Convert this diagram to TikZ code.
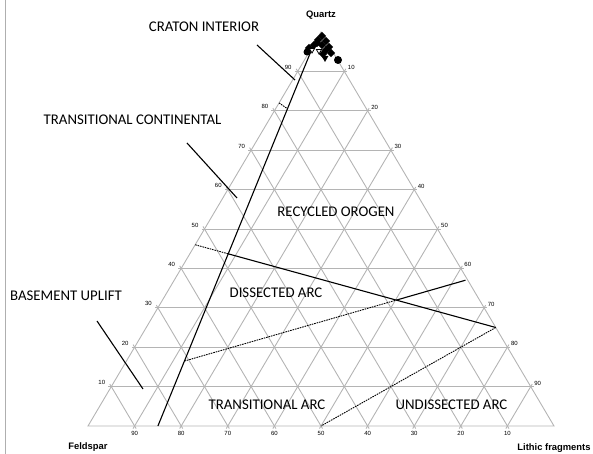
\documentclass[tikz,border=0pt]{standalone}
\usepackage{fontspec}
\setmainfont{Carlito}
\newfontfamily\arialfont{Liberation Sans}
\usepackage{xcolor}
\definecolor{GridGray}{RGB}{180,180,180}
\definecolor{FrameGray}{RGB}{175,175,175}
\usetikzlibrary{shapes.geometric, calc, positioning}
\tikzset{
  % Ternary grid and outline
  gridline/.style={draw=GridGray, line width=0.9pt, shorten <=-3pt, shorten >=-3pt},
  edgeline/.style={draw=GridGray, line width=0.9pt},
  % Field boundaries
  bound/.style={draw=black, line width=1.1pt},
  dbound/.style={draw=black, line width=0.9pt, dash pattern=on 1.6pt off 0.9pt},
  % Leader lines
  lead/.style={draw=black, line width=1.1pt},
  % Texts
  fieldlbl/.style={font=\fontsize{14.8}{17}\selectfont, inner sep=0pt},
  apexlbl/.style={font=\arialfont\bfseries\fontsize{9.4}{10}\selectfont, inner sep=0pt},
  ticklbl/.style={font=\arialfont\fontsize{6}{7}\selectfont, inner sep=0pt},
  % Data markers
  dmark/.style={diamond, fill=black, inner sep=0pt, minimum size=8.5pt},
  cmark/.style={circle, fill=black, inner sep=0pt, minimum size=#1},
  cmark/.default=7pt,
  tmark/.style={regular polygon, regular polygon sides=3, shape border rotate=180,
    fill=black, inner sep=0pt, minimum size=8pt},
  omark/.style={tmark, fill=white, draw=black, line width=0.8pt, minimum size=6pt},
}

\begin{document}
\begin{tikzpicture}[x=1pt, y=1pt]
  \useasboundingbox (0,0) rectangle (593,454);

  %% ---- FRAME ----
  \coordinate (frtop) at (5.5,454);
  \coordinate (frbot) at (5.5,0);
  \draw[draw=FrameGray, line width=0.8pt] (frtop) -- (frbot);

  %% ---- TERNARY TRIANGLE ----
  \coordinate (fel) at (88,28);
  \coordinate (lit) at (554,28);
  \coordinate (qtz) at (321,422);

  \foreach \i in {1,...,9}{
    \pgfmathsetmacro\a{\i/10}
    \pgfmathsetmacro\b{1-\i/10}
    \draw[gridline] (barycentric cs:qtz=\a,fel=\b) -- (barycentric cs:qtz=\a,lit=\b);
    \draw[gridline] (barycentric cs:fel=\a,qtz=\b) -- (barycentric cs:fel=\a,lit=\b);
    \draw[gridline] (barycentric cs:lit=\a,qtz=\b) -- (barycentric cs:lit=\a,fel=\b);
  }
  \draw[edgeline] (fel) -- (lit) -- (qtz) -- cycle;

  %% Tick labels
  \foreach \i in {1,...,9}{
    \pgfmathsetmacro\a{\i/10}
    \pgfmathsetmacro\b{1-\i/10}
    \node[ticklbl, xshift=-9.5pt, yshift=4pt] (ql\i) at (barycentric cs:qtz=\a,fel=\b) {\i0};
    \node[ticklbl, xshift=7pt, yshift=3.5pt] (ll\i) at (barycentric cs:lit=\a,qtz=\b) {\i0};
    \node[ticklbl, yshift=-7pt] (fl\i) at (barycentric cs:fel=\a,lit=\b) {\i0};
  }

  %% Apex labels
  \node[apexlbl] (qlbl) at (321,439) {Quartz};
  \node[apexlbl] (flbl) at (88,7) {Feldspar};
  \node[apexlbl] (llbl) at (554,6) {Lithic fragments};

  %% ---- FIELD BOUNDARIES ----
  \coordinate (ctop) at (barycentric cs:qtz=0.97,fel=0.03);
  \coordinate (cbot) at (barycentric cs:fel=0.85,lit=0.15);
  \coordinate (ci1) at (barycentric cs:qtz=0.82,fel=0.18);
  \coordinate (ci2) at ($(ctop)!0.17!(cbot)$);
  \coordinate (ro1) at (barycentric cs:qtz=0.46,fel=0.54);
  \coordinate (ro2) at (barycentric cs:qtz=0.25,lit=0.75);
  \coordinate (da1) at ($(ctop)!0.83!(cbot)$);
  \coordinate (da2) at (barycentric cs:qtz=0.37,fel=0.005,lit=0.625);
  \coordinate (ua1) at (barycentric cs:fel=0.5,lit=0.5);
  \coordinate (rox) at (intersection of ro1--ro2 and ctop--cbot);
  \coordinate (dax) at (intersection of da1--da2 and ro1--ro2);

  \draw[bound] (ctop) -- (cbot);
  \draw[dbound] (ci1) -- (ci2);
  \draw[dbound] (ro1) -- (rox);
  \draw[bound] (rox) -- (ro2);
  \draw[dbound] (da1) -- (dax);
  \draw[bound] (dax) -- (da2);
  \draw[dbound] (ro2) -- (ua1);

  %% ---- FIELD LABELS ----
  \node[fieldlbl] (craton) at (204,427) {CRATON INTERIOR};
  \node[fieldlbl] (trcont) at (132.5,334) {TRANSITIONAL CONTINENTAL};
  \node[fieldlbl] (baseup) at (66,158) {BASEMENT UPLIFT};
  \node[fieldlbl] (recyc) at (336,242) {RECYCLED OROGEN};
  \node[fieldlbl] (disarc) at (276,161) {DISSECTED ARC};
  \node[fieldlbl] (trarc) at (267,49) {TRANSITIONAL ARC};
  \node[fieldlbl] (undarc) at (451.5,49) {UNDISSECTED ARC};

  %% Leader lines
  \coordinate (crA) at (257,409);  \coordinate (crB) at (295,374);
  \coordinate (tcA) at (187,311);  \coordinate (tcB) at (237,256);
  \coordinate (buA) at (97,133);   \coordinate (buB) at (143,65);
  \draw[lead] (crA) -- (crB);
  \draw[lead] (tcA) -- (tcB);
  \draw[lead] (buA) -- (buB);

  %% ---- DATA POINTS ----
  \foreach \x/\y [count=\n] in {322/418, 318/414, 326/413, 314/409, 322/409,
      329/407, 309/406, 326/404, 331/401, 323/400, 317/411}
    \node[dmark] (dia\n) at (\x,\y) {};
  \node[omark] (opn1) at (312,404) {};
  \node[omark] (opn2) at (319,403) {};
  \node[tmark] (tri1) at (325,396) {};
  \node[cmark] (cir1) at (307,402) {};
  \node[cmark=8pt] (cir2) at (338,394) {};

\end{tikzpicture}
\end{document}
